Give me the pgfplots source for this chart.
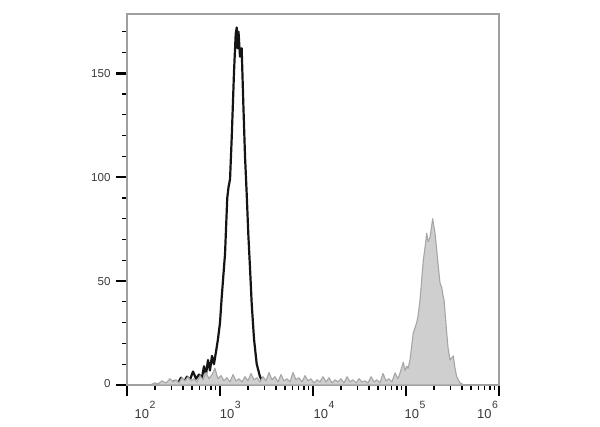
\documentclass[border=0pt]{standalone}
\usepackage{pgfplots}
\pgfplotsset{compat=1.18}
\usepackage{pgfplotstable}
\usepackage{fontspec}
\setmainfont{Liberation Sans}
\definecolor{lbl}{HTML}{3A3A3A}
\definecolor{frame}{HTML}{A0A0A0}
\definecolor{gfill}{HTML}{CFCFCF}
\definecolor{gline}{HTML}{A6A6A6}
\definecolor{bline}{HTML}{141414}
\newcommand{\dec}[1]{10\kern0.6bp\raisebox{9.5bp}{\fontsize{10.5}{11}\selectfont #1}}
% x = log10(fluorescence intensity), y = count
\pgfplotstableread{
x y
2.355 0
2.462 0.5
2.516 2
2.548 1
2.581 3.5
2.613 1.5
2.645 4
2.677 2.5
2.710 6.5
2.742 3
2.774 5
2.806 3.5
2.828 9
2.849 5
2.871 12
2.892 7
2.914 14
2.935 10
2.957 16
2.978 22
3.000 30
3.018 42
3.035 52
3.054 63
3.078 90
3.091 95
3.108 99
3.126 119
3.151 151
3.169 169
3.180 172
3.188 162
3.199 170
3.215 158
3.233 162
3.251 135
3.269 110
3.287 92
3.304 73
3.323 56
3.341 39
3.366 22
3.395 10
3.430 4
3.466 1
3.516 0
}\blackdata
\pgfplotstableread{
x y
2.247 0
2.301 1
2.333 0.5
2.376 2
2.419 1
2.462 3
2.495 1.5
2.527 2.5
2.559 1
2.591 3.5
2.624 2
2.656 4
2.688 2
2.720 3
2.753 1.5
2.785 4.5
2.817 2.5
2.849 6
2.882 3
2.914 5
2.946 8
2.978 3
3.011 4.5
3.043 2
3.075 3.5
3.108 1.5
3.140 5
3.172 2
3.204 3
3.237 1.5
3.269 4
3.301 2
3.333 5.5
3.366 2.5
3.398 3.5
3.430 1.5
3.462 4
3.495 2
3.527 6
3.559 2.5
3.591 4
3.624 1.5
3.656 5
3.688 2
3.720 3
3.753 1.5
3.785 6
3.817 2.5
3.849 3.5
3.882 1.5
3.914 4.5
3.946 2
3.978 3
4.011 1
4.043 2.5
4.075 1.5
4.108 4
4.140 1.5
4.172 3.5
4.204 1
4.237 2.5
4.269 1.5
4.301 3
4.333 1
4.366 4
4.398 1.5
4.430 2.5
4.462 1
4.495 3
4.527 1.5
4.559 2
4.591 1
4.624 4
4.656 1.5
4.688 2.5
4.720 1
4.753 5.5
4.785 2
4.817 3
4.849 1.5
4.882 5.8
4.914 3
4.935 5.6
4.971 11
4.989 7
5.008 9
5.022 8
5.043 12
5.078 25
5.115 30
5.129 33
5.151 41
5.186 60
5.204 66
5.223 73
5.237 69
5.258 71
5.287 80
5.301 76
5.312 73
5.328 66
5.347 57
5.366 49
5.384 47
5.398 43
5.409 41
5.438 25
5.452 18
5.473 12
5.509 14
5.527 8
5.545 4
5.581 1
5.624 0
}\graydata
\begin{document}
\begin{tikzpicture}
\fill[white] (-127bp,-42bp) rectangle (473bp,385bp);
\path[use as bounding box] (-127bp,-42bp) rectangle (473bp,385bp);
\begin{axis}[
  at={(0,0)}, anchor=south west, scale only axis,
  width=372bp, height=371bp,
  xmin=2, xmax=6, ymin=0, ymax=178.5,
  axis line style={frame, line width=1.1bp},
  tick pos=left, tick align=outside,
  xtick={2,3,4,5,6}, xticklabels={},
  minor xtick={2.301,2.477,2.602,2.699,2.778,2.845,2.903,2.954,
               3.301,3.477,3.602,3.699,3.778,3.845,3.903,3.954,
               4.301,4.477,4.602,4.699,4.778,4.845,4.903,4.954,
               5.301,5.477,5.602,5.699,5.778,5.845,5.903,5.954},
  ytick={0,50,100,150},
  yticklabels={\raisebox{4bp}{0},50,100,150},
  minor ytick={10,20,30,40,60,70,80,90,110,120,130,140,160,170},
  major tick length=11bp, minor tick length=5bp,
  major tick style={black, line width=2.6bp},
  minor tick style={black, line width=1.2bp},
  yticklabel style={font=\fontsize{11.6}{13}\selectfont, text=lbl, xshift=-2bp},
  extra x ticks={2.194,3.111,4.118,5.097,5.876},
  extra x tick labels={\dec{2},\dec{3},\dec{4},\dec{5},\dec{6}},
  extra x tick style={major tick style={draw=none},
     xticklabel style={font=\fontsize{13}{15}\selectfont, text=lbl, yshift=-2bp}},
]
\addplot[bline, line width=2.2bp, line join=round] table[x=x,y=y] {\blackdata};
\addplot[draw=gline, fill=gfill, line width=1.1bp, line join=round] table[x=x,y=y] {\graydata} \closedcycle;
\end{axis}
\end{tikzpicture}
\end{document}
